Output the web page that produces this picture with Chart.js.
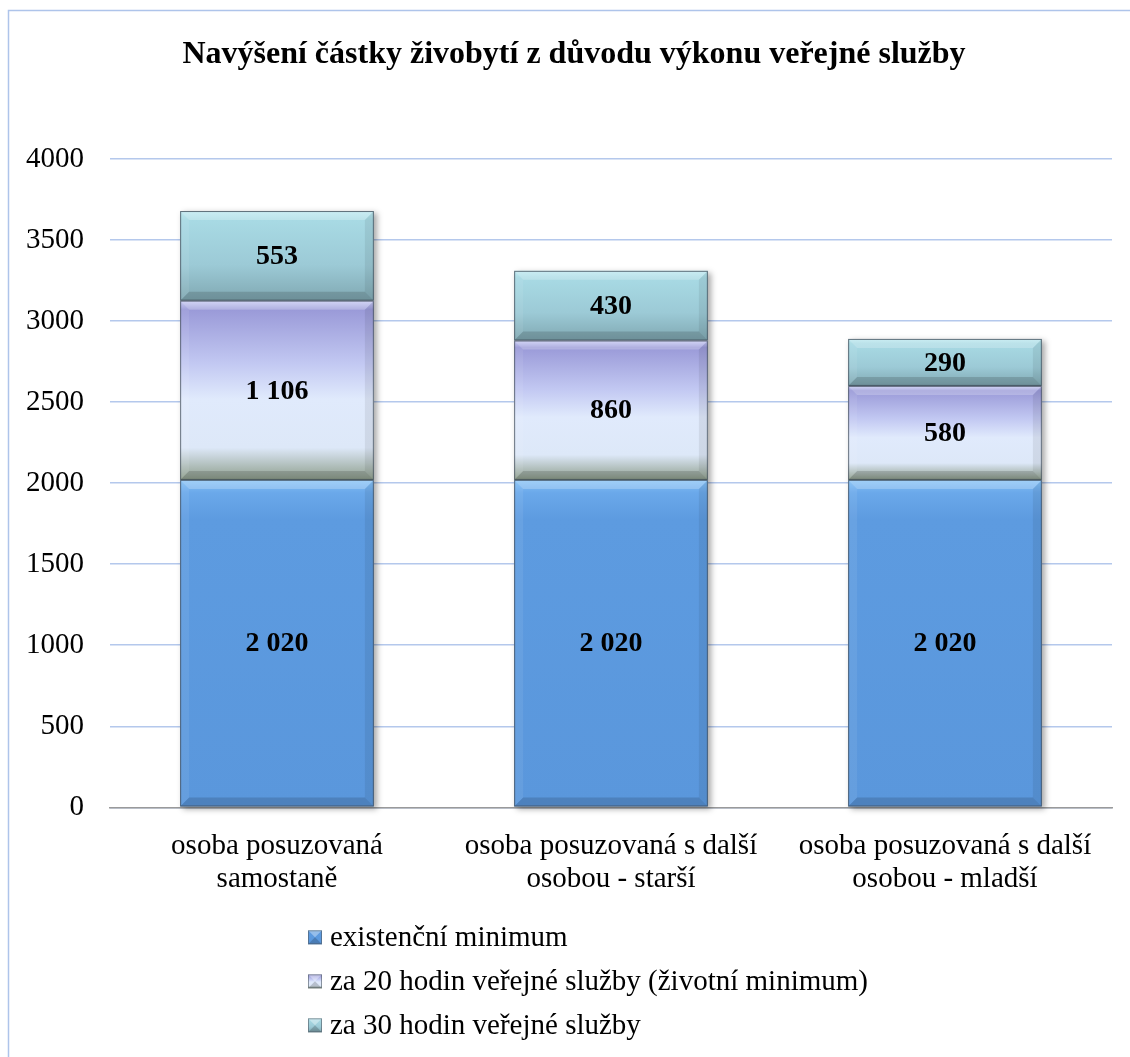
<!DOCTYPE html>
<html>
<head>
<meta charset="utf-8">
<script src="https://cdn.jsdelivr.net/npm/chart.js@4"></script>
<style>
  body { margin: 0; background: #fff; }
  #wrap { width: 1130px; height: 1057px; }
</style>
</head>
<body>
<div id="wrap"><canvas id="chartZivobyti"></canvas></div>
<script>
//* DATOS
const titulek = 'Navýšení částky živobytí z důvodu výkonu veřejné služby';
const kategorie = [
    ['osoba posuzovaná', 'samostaně'],
    ['osoba posuzovaná s další', 'osobou - starší'],
    ['osoba posuzovaná s další', 'osobou - mladší']
];
const existencniMinimum = [2020, 2020, 2020];
const za20Hodin = [1106, 860, 580];
const za30Hodin = [553, 430, 290];
const nazvySerii = [
    'existenční minimum',
    'za 20 hodin veřejné služby (životní minimum)',
    'za 30 hodin veřejné služby'
];
const yTicks = [0, 500, 1000, 1500, 2000, 2500, 3000, 3500, 4000];

const FONT = "'Liberation Serif', 'Times New Roman', serif";

// gradient stops per series (top -> bottom of segment)
const stops = [
    [[0, '#86c2f6'], [0.04, '#6aa8ea'], [0.12, '#5d9be0'], [1, '#5a97dc']],
    [[0, '#c8ccf4'], [0.05, '#9a9ad8'], [0.35, '#c2c8f2'], [0.55, '#e0eafc'], [0.82, '#dde8f8'], [1, '#8e9e8c']],
    [[0, '#bce8f0'], [0.1, '#a8dae4'], [0.6, '#9ccad6'], [1, '#80a8b2']]
];
const flat = ['#5b9be0', '#d4dcf8', '#9ccad6'];

function segmentGradient(ctx) {
    const chart = ctx.chart;
    if (!chart.chartArea || ctx.type !== 'data') return flat[ctx.datasetIndex];
    const y = chart.scales.y;
    let base = 0;
    for (let d = 0; d < ctx.datasetIndex; d++) base += chart.data.datasets[d].data[ctx.dataIndex];
    const top = base + chart.data.datasets[ctx.datasetIndex].data[ctx.dataIndex];
    const y0 = y.getPixelForValue(top), y1 = y.getPixelForValue(base);
    const g = chart.ctx.createLinearGradient(0, y0, 0, y1);
    stops[ctx.datasetIndex].forEach(s => g.addColorStop(s[0], s[1]));
    return g;
}

function formatCislo(v) {
    return String(v).replace(/\B(?=(\d{3})+(?!\d))/g, ' ');
}

const ramPlugin = {
    id: 'ram',
    beforeDraw(chart) {
        const c = chart.ctx;
        c.save();
        c.strokeStyle = '#aec4ea';
        c.lineWidth = 1.5;
        c.strokeRect(8.5, 10.5, chart.width + 20, chart.height + 20);
        // title
        c.fillStyle = '#000';
        c.font = 'bold 32px ' + FONT;
        c.textAlign = 'center';
        c.textBaseline = 'middle';
        c.fillText(titulek, 574, 55);
        c.restore();
    }
};

const bevelPlugin = {
    id: 'bevel',
    beforeDatasetsDraw(chart) {
        // soft shadow behind bars
        const c = chart.ctx;
        c.save();
        chart.getDatasetMeta(0).data.forEach((bar, i) => {
            let top = chart.getDatasetMeta(2).data[i].y;
            const l = bar.x - bar.width / 2;
            c.shadowColor = 'rgba(0,0,0,0.35)';
            c.shadowBlur = 6;
            c.shadowOffsetX = 3;
            c.shadowOffsetY = 2;
            c.fillStyle = '#ffffff';
            c.fillRect(l, top, bar.width, bar.base - top);
        });
        c.restore();
    },
    afterDatasetsDraw(chart) {
        const c = chart.ctx;
        const b = 9;
        c.save();
        chart.data.datasets.forEach((ds, di) => {
            chart.getDatasetMeta(di).data.forEach(bar => {
                const l = bar.x - bar.width / 2, r = bar.x + bar.width / 2;
                const t = bar.y, bt = bar.base;
                // top bevel
                c.fillStyle = 'rgba(255,255,255,0.22)';
                c.beginPath(); c.moveTo(l, t); c.lineTo(r, t); c.lineTo(r - b, t + b); c.lineTo(l + b, t + b); c.closePath(); c.fill();
                // left bevel
                c.fillStyle = 'rgba(255,255,255,0.07)';
                c.beginPath(); c.moveTo(l, t); c.lineTo(l + b, t + b); c.lineTo(l + b, bt - b); c.lineTo(l, bt); c.closePath(); c.fill();
                // right bevel
                c.fillStyle = 'rgba(0,0,0,0.07)';
                c.beginPath(); c.moveTo(r, t); c.lineTo(r - b, t + b); c.lineTo(r - b, bt - b); c.lineTo(r, bt); c.closePath(); c.fill();
                // bottom bevel
                c.fillStyle = 'rgba(0,0,0,0.14)';
                c.beginPath(); c.moveTo(l, bt); c.lineTo(r, bt); c.lineTo(r - b, bt - b); c.lineTo(l + b, bt - b); c.closePath(); c.fill();
                c.strokeStyle = 'rgba(60,72,84,0.75)';
                c.lineWidth = 1;
                c.strokeRect(l + 0.5, t + 0.5, bar.width - 1, bt - t - 1);
            });
        });
        // labels
        c.fillStyle = '#000';
        c.font = 'bold 28px ' + FONT;
        c.textAlign = 'center';
        c.textBaseline = 'middle';
        chart.data.datasets.forEach((ds, di) => {
            chart.getDatasetMeta(di).data.forEach((bar, i) => {
                c.fillText(formatCislo(ds.data[i]), bar.x, (bar.y + bar.base) / 2 + 1);
            });
        });
        c.restore();
    }
};

const legendaPlugin = {
    id: 'legenda',
    afterDraw(chart) {
        const c = chart.ctx;
        const x = 308, s = 14;
        c.save();
        c.font = '29px ' + FONT;
        c.textBaseline = 'middle';
        c.textAlign = 'left';
        nazvySerii.forEach((nazev, i) => {
            const yc = chart.chartArea.bottom + 130 + i * 44;
            const y0 = yc - s / 2;
            const g = c.createLinearGradient(0, y0, 0, y0 + s);
            stops[i].forEach(st => g.addColorStop(st[0], st[1]));
            c.fillStyle = g;
            c.fillRect(x, y0, s, s);
            // pyramid look
            c.fillStyle = 'rgba(255,255,255,0.35)';
            c.beginPath(); c.moveTo(x, y0); c.lineTo(x + s, y0); c.lineTo(x + s / 2, y0 + s / 2); c.closePath(); c.fill();
            c.fillStyle = 'rgba(0,0,0,0.18)';
            c.beginPath(); c.moveTo(x, y0 + s); c.lineTo(x + s, y0 + s); c.lineTo(x + s / 2, y0 + s / 2); c.closePath(); c.fill();
            c.strokeStyle = 'rgba(80,90,100,0.6)';
            c.lineWidth = 1;
            c.strokeRect(x + 0.5, y0 + 0.5, s - 1, s - 1);
            c.fillStyle = '#000';
            c.fillText(nazev, x + s + 8, yc + 1);
        });
        c.restore();
    }
};

new Chart(document.getElementById('chartZivobyti'), {
    type: 'bar',
    data: {
        labels: kategorie,
        datasets: [
            { label: nazvySerii[0], data: existencniMinimum, backgroundColor: segmentGradient },
            { label: nazvySerii[1], data: za20Hodin, backgroundColor: segmentGradient },
            { label: nazvySerii[2], data: za30Hodin, backgroundColor: segmentGradient }
        ]
    },
    options: {
        responsive: true,
        maintainAspectRatio: false,
        animation: false,
        barPercentage: 0.58,
        categoryPercentage: 1,
        layout: { padding: { top: 159, left: 0, right: 18, bottom: 147 } },
        plugins: {
            legend: { display: false },
            tooltip: { enabled: false },
            title: { display: false }
        },
        scales: {
            x: {
                stacked: true,
                grid: { display: false },
                border: { display: true, color: '#9a9a9a', width: 1.5 },
                ticks: {
                    color: '#000',
                    padding: 14,
                    maxRotation: 0,
                    font: { family: FONT, size: 29, lineHeight: 1.15 }
                }
            },
            y: {
                stacked: true,
                min: 0,
                max: 4000,
                afterBuildTicks(axis) { axis.ticks = yTicks.map(v => ({ value: v })); },
                grid: { color: '#b4c8ec', lineWidth: 1.5, drawTicks: false },
                border: { display: false },
                ticks: {
                    color: '#000',
                    padding: 26,
                    font: { family: FONT, size: 29 },
                    callback: v => String(v)
                }
            }
        }
    },
    plugins: [ramPlugin, bevelPlugin, legendaPlugin]
});
</script>
</body>
</html>
